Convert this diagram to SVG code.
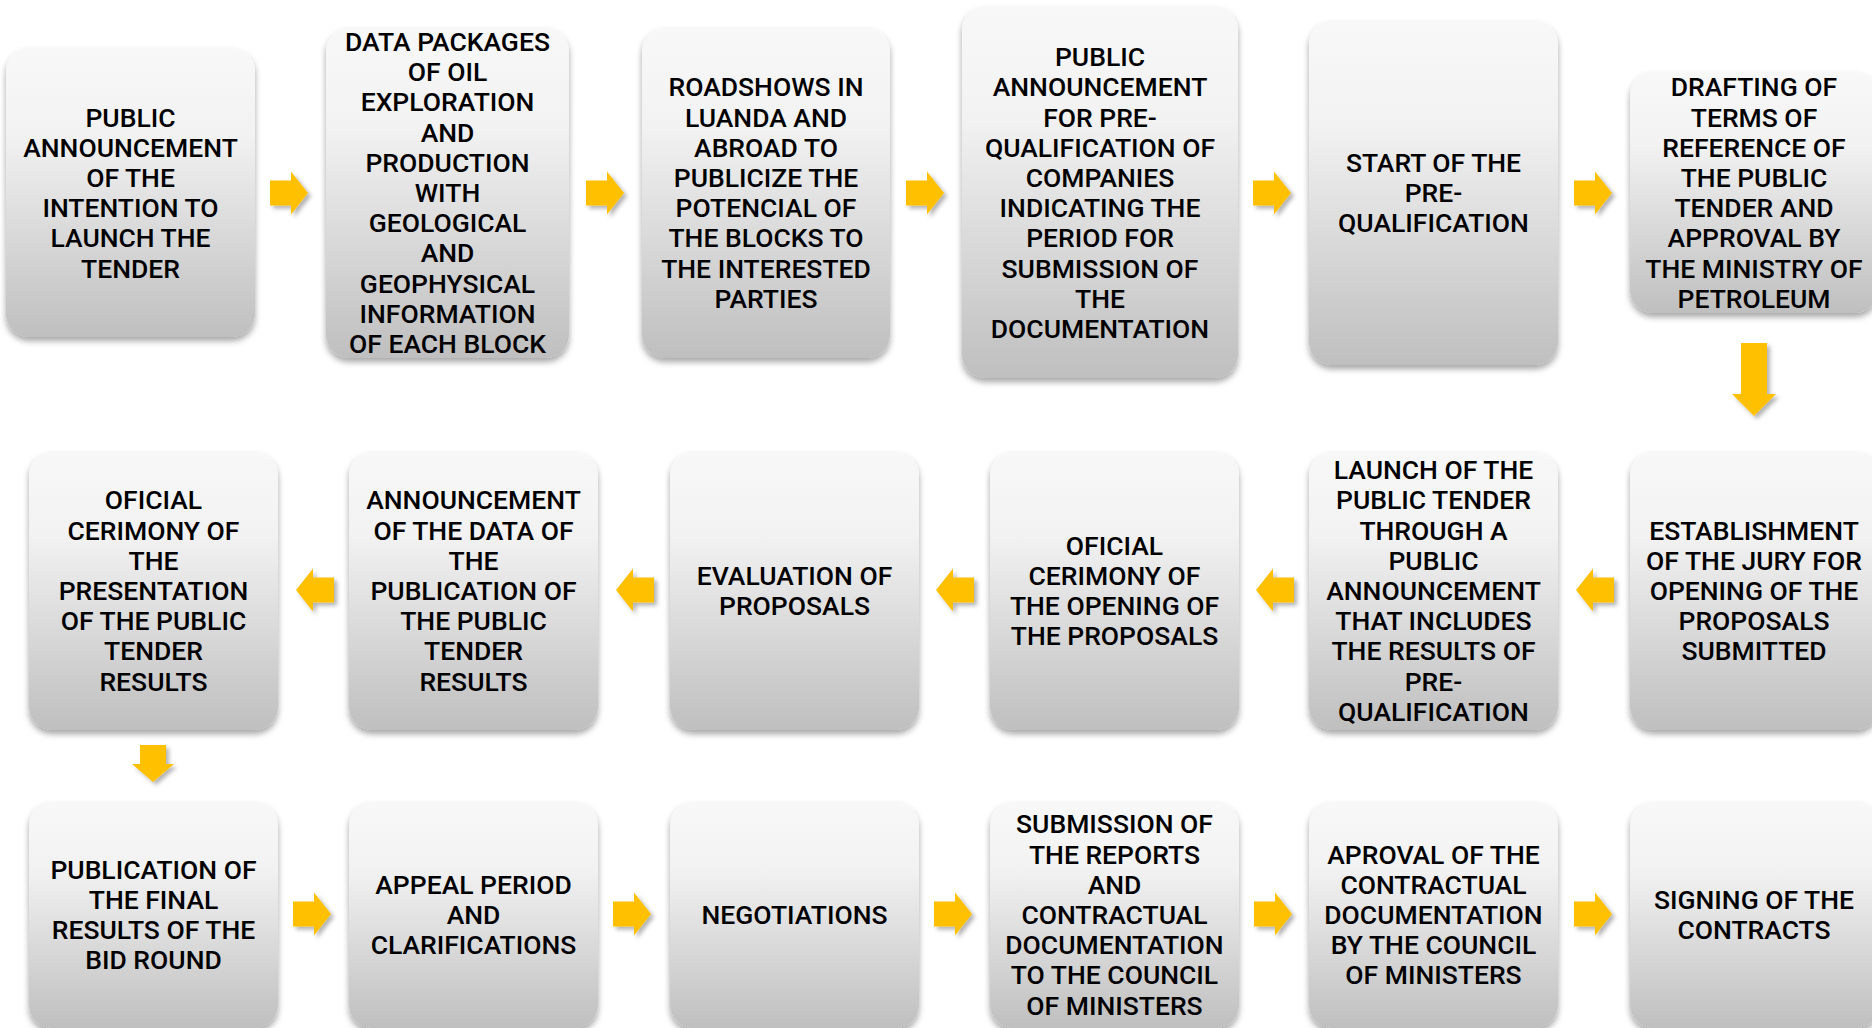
<svg xmlns="http://www.w3.org/2000/svg" xmlns:xlink="http://www.w3.org/1999/xlink" width="1872" height="1028" viewBox="0 0 1872 1028">
<defs>
<linearGradient id="g" x1="0" y1="0" x2="0" y2="1">
<stop offset="0" stop-color="#f8f8f8"/>
<stop offset="0.3" stop-color="#f2f2f2"/>
<stop offset="1" stop-color="#bfbfbf"/>
</linearGradient>
<filter id="sh" x="-10%" y="-10%" width="120%" height="125%">
<feDropShadow dx="0" dy="4" stdDeviation="3" flood-color="#000" flood-opacity="0.35"/>
</filter>
<filter id="ash" x="-30%" y="-30%" width="170%" height="170%">
<feDropShadow dx="3" dy="3" stdDeviation="2" flood-color="#000" flood-opacity="0.3"/>
</filter>
<path id="ra" d="M0,-12.5 H21 V-21.5 L38,0 L21,21.5 V12.5 H0 Z"/>
<path id="la" d="M38,-12.5 H17 V-21.5 L0,0 L17,21.5 V12.5 H38 Z"/>
</defs>
<style>
.box{fill:url(#g);filter:url(#sh)}
.t{font-family:Roboto,"Liberation Sans",sans-serif;font-weight:500;font-size:26.5px;text-anchor:middle;fill:#000}
.arr{fill:#FFC000;filter:url(#ash)}
</style>
<rect width="1872" height="1028" fill="#fff"/>

<g id="connectors">
<use href="#ra" x="270" y="193" class="arr"/>
<use href="#ra" x="586" y="193" class="arr"/>
<use href="#ra" x="906" y="193" class="arr"/>
<use href="#ra" x="1253" y="193" class="arr"/>
<use href="#ra" x="1574" y="193" class="arr"/>
<path class="arr" d="M1741,343 H1767 V394 H1776 L1754,416 L1732,394 H1741 Z"/>
<use href="#la" x="296" y="590" class="arr"/>
<use href="#la" x="616" y="590" class="arr"/>
<use href="#la" x="936" y="590" class="arr"/>
<use href="#la" x="1256" y="590" class="arr"/>
<use href="#la" x="1576" y="590" class="arr"/>
<path class="arr" d="M140,745 H166 V764 H174 L153,782 L132,764 H140 Z"/>
<use href="#ra" x="293" y="914" class="arr"/>
<use href="#ra" x="613" y="914" class="arr"/>
<use href="#ra" x="934" y="914" class="arr"/>
<use href="#ra" x="1254" y="914" class="arr"/>
<use href="#ra" x="1574" y="914" class="arr"/>
</g>

<g id="n1"><rect class="box" x="6" y="48" width="249" height="289" rx="23"/>
<text class="t" x="130.5" y="126.5"><tspan x="130.5">PUBLIC</tspan><tspan x="130.5" dy="30.2">ANNOUNCEMENT</tspan><tspan x="130.5" dy="30.2">OF THE</tspan><tspan x="130.5" dy="30.2">INTENTION TO</tspan><tspan x="130.5" dy="30.2">LAUNCH THE</tspan><tspan x="130.5" dy="30.2">TENDER</tspan></text></g>

<g id="n2"><rect class="box" x="326" y="28" width="243" height="330" rx="23"/>
<text class="t" x="447.5" y="51"><tspan x="447.5">DATA PACKAGES</tspan><tspan x="447.5" dy="30.2">OF OIL</tspan><tspan x="447.5" dy="30.2">EXPLORATION</tspan><tspan x="447.5" dy="30.2">AND</tspan><tspan x="447.5" dy="30.2">PRODUCTION</tspan><tspan x="447.5" dy="30.2">WITH</tspan><tspan x="447.5" dy="30.2">GEOLOGICAL</tspan><tspan x="447.5" dy="30.2">AND</tspan><tspan x="447.5" dy="30.2">GEOPHYSICAL</tspan><tspan x="447.5" dy="30.2">INFORMATION</tspan><tspan x="447.5" dy="30.2">OF EACH BLOCK</tspan></text></g>

<g id="n3"><rect class="box" x="642" y="28" width="248" height="330" rx="23"/>
<text class="t" x="766" y="96.3"><tspan x="766">ROADSHOWS IN</tspan><tspan x="766" dy="30.2">LUANDA AND</tspan><tspan x="766" dy="30.2">ABROAD TO</tspan><tspan x="766" dy="30.2">PUBLICIZE THE</tspan><tspan x="766" dy="30.2">POTENCIAL OF</tspan><tspan x="766" dy="30.2">THE BLOCKS TO</tspan><tspan x="766" dy="30.2">THE INTERESTED</tspan><tspan x="766" dy="30.2">PARTIES</tspan></text></g>

<g id="n4"><rect class="box" x="962" y="7" width="276" height="371" rx="23"/>
<text class="t" x="1100" y="66.1"><tspan x="1100">PUBLIC</tspan><tspan x="1100" dy="30.2">ANNOUNCEMENT</tspan><tspan x="1100" dy="30.2">FOR PRE-</tspan><tspan x="1100" dy="30.2">QUALIFICATION OF</tspan><tspan x="1100" dy="30.2">COMPANIES</tspan><tspan x="1100" dy="30.2">INDICATING THE</tspan><tspan x="1100" dy="30.2">PERIOD FOR</tspan><tspan x="1100" dy="30.2">SUBMISSION OF</tspan><tspan x="1100" dy="30.2">THE</tspan><tspan x="1100" dy="30.2">DOCUMENTATION</tspan></text></g>

<g id="n5"><rect class="box" x="1309" y="21" width="249" height="344" rx="23"/>
<text class="t" x="1433.5" y="171.8"><tspan x="1433.5">START OF THE</tspan><tspan x="1433.5" dy="30.2">PRE-</tspan><tspan x="1433.5" dy="30.2">QUALIFICATION</tspan></text></g>

<g id="n6"><rect class="box" x="1630" y="72" width="248" height="241" rx="23"/>
<text class="t" x="1754" y="96.3"><tspan x="1754">DRAFTING OF</tspan><tspan x="1754" dy="30.2">TERMS OF</tspan><tspan x="1754" dy="30.2">REFERENCE OF</tspan><tspan x="1754" dy="30.2">THE PUBLIC</tspan><tspan x="1754" dy="30.2">TENDER AND</tspan><tspan x="1754" dy="30.2">APPROVAL BY</tspan><tspan x="1754" dy="30.2">THE MINISTRY OF</tspan><tspan x="1754" dy="30.2">PETROLEUM</tspan></text></g>

<g id="n7"><rect class="box" x="1630" y="452" width="249" height="278" rx="23"/>
<text class="t" x="1754" y="539.6"><tspan x="1754">ESTABLISHMENT</tspan><tspan x="1754" dy="30.2">OF THE JURY FOR</tspan><tspan x="1754" dy="30.2">OPENING OF THE</tspan><tspan x="1754" dy="30.2">PROPOSALS</tspan><tspan x="1754" dy="30.2">SUBMITTED</tspan></text></g>

<g id="n8"><rect class="box" x="1309" y="452" width="249" height="278" rx="23"/>
<text class="t" x="1433.5" y="479.2"><tspan x="1433.5">LAUNCH OF THE</tspan><tspan x="1433.5" dy="30.2">PUBLIC TENDER</tspan><tspan x="1433.5" dy="30.2">THROUGH A</tspan><tspan x="1433.5" dy="30.2">PUBLIC</tspan><tspan x="1433.5" dy="30.2">ANNOUNCEMENT</tspan><tspan x="1433.5" dy="30.2">THAT INCLUDES</tspan><tspan x="1433.5" dy="30.2">THE RESULTS OF</tspan><tspan x="1433.5" dy="30.2">PRE-</tspan><tspan x="1433.5" dy="30.2">QUALIFICATION</tspan></text></g>

<g id="n9"><rect class="box" x="990" y="452" width="249" height="278" rx="23"/>
<text class="t" x="1114.5" y="554.7"><tspan x="1114.5">OFICIAL</tspan><tspan x="1114.5" dy="30.2">CERIMONY OF</tspan><tspan x="1114.5" dy="30.2">THE OPENING OF</tspan><tspan x="1114.5" dy="30.2">THE PROPOSALS</tspan></text></g>

<g id="n10"><rect class="box" x="670" y="452" width="249" height="278" rx="23"/>
<text class="t" x="794.5" y="584.9"><tspan x="794.5">EVALUATION OF</tspan><tspan x="794.5" dy="30.2">PROPOSALS</tspan></text></g>

<g id="n11"><rect class="box" x="349" y="452" width="249" height="278" rx="23"/>
<text class="t" x="473.5" y="509.4"><tspan x="473.5">ANNOUNCEMENT</tspan><tspan x="473.5" dy="30.2">OF THE DATA OF</tspan><tspan x="473.5" dy="30.2">THE</tspan><tspan x="473.5" dy="30.2">PUBLICATION OF</tspan><tspan x="473.5" dy="30.2">THE PUBLIC</tspan><tspan x="473.5" dy="30.2">TENDER</tspan><tspan x="473.5" dy="30.2">RESULTS</tspan></text></g>

<g id="n12"><rect class="box" x="29" y="452" width="249" height="278" rx="23"/>
<text class="t" x="153.5" y="509.4"><tspan x="153.5">OFICIAL</tspan><tspan x="153.5" dy="30.2">CERIMONY OF</tspan><tspan x="153.5" dy="30.2">THE</tspan><tspan x="153.5" dy="30.2">PRESENTATION</tspan><tspan x="153.5" dy="30.2">OF THE PUBLIC</tspan><tspan x="153.5" dy="30.2">TENDER</tspan><tspan x="153.5" dy="30.2">RESULTS</tspan></text></g>

<g id="n13"><rect class="box" x="29" y="802" width="249" height="226" rx="23"/>
<text class="t" x="153.5" y="878.7"><tspan x="153.5">PUBLICATION OF</tspan><tspan x="153.5" dy="30.2">THE FINAL</tspan><tspan x="153.5" dy="30.2">RESULTS OF THE</tspan><tspan x="153.5" dy="30.2">BID ROUND</tspan></text></g>

<g id="n14"><rect class="box" x="349" y="802" width="249" height="226" rx="23"/>
<text class="t" x="473.5" y="893.8"><tspan x="473.5">APPEAL PERIOD</tspan><tspan x="473.5" dy="30.2">AND</tspan><tspan x="473.5" dy="30.2">CLARIFICATIONS</tspan></text></g>

<g id="n15"><rect class="box" x="670" y="802" width="249" height="226" rx="23"/>
<text class="t" x="794.5" y="924">NEGOTIATIONS</text></g>

<g id="n16"><rect class="box" x="990" y="802" width="249" height="226" rx="23"/>
<text class="t" x="1114.5" y="833.4"><tspan x="1114.5">SUBMISSION OF</tspan><tspan x="1114.5" dy="30.2">THE REPORTS</tspan><tspan x="1114.5" dy="30.2">AND</tspan><tspan x="1114.5" dy="30.2">CONTRACTUAL</tspan><tspan x="1114.5" dy="30.2">DOCUMENTATION</tspan><tspan x="1114.5" dy="30.2">TO THE COUNCIL</tspan><tspan x="1114.5" dy="30.2">OF MINISTERS</tspan></text></g>

<g id="n17"><rect class="box" x="1309" y="802" width="249" height="226" rx="23"/>
<text class="t" x="1433.5" y="863.6"><tspan x="1433.5">APROVAL OF THE</tspan><tspan x="1433.5" dy="30.2">CONTRACTUAL</tspan><tspan x="1433.5" dy="30.2">DOCUMENTATION</tspan><tspan x="1433.5" dy="30.2">BY THE COUNCIL</tspan><tspan x="1433.5" dy="30.2">OF MINISTERS</tspan></text></g>

<g id="n18"><rect class="box" x="1630" y="802" width="249" height="226" rx="23"/>
<text class="t" x="1754" y="908.9"><tspan x="1754">SIGNING OF THE</tspan><tspan x="1754" dy="30.2">CONTRACTS</tspan></text></g>
</svg>
